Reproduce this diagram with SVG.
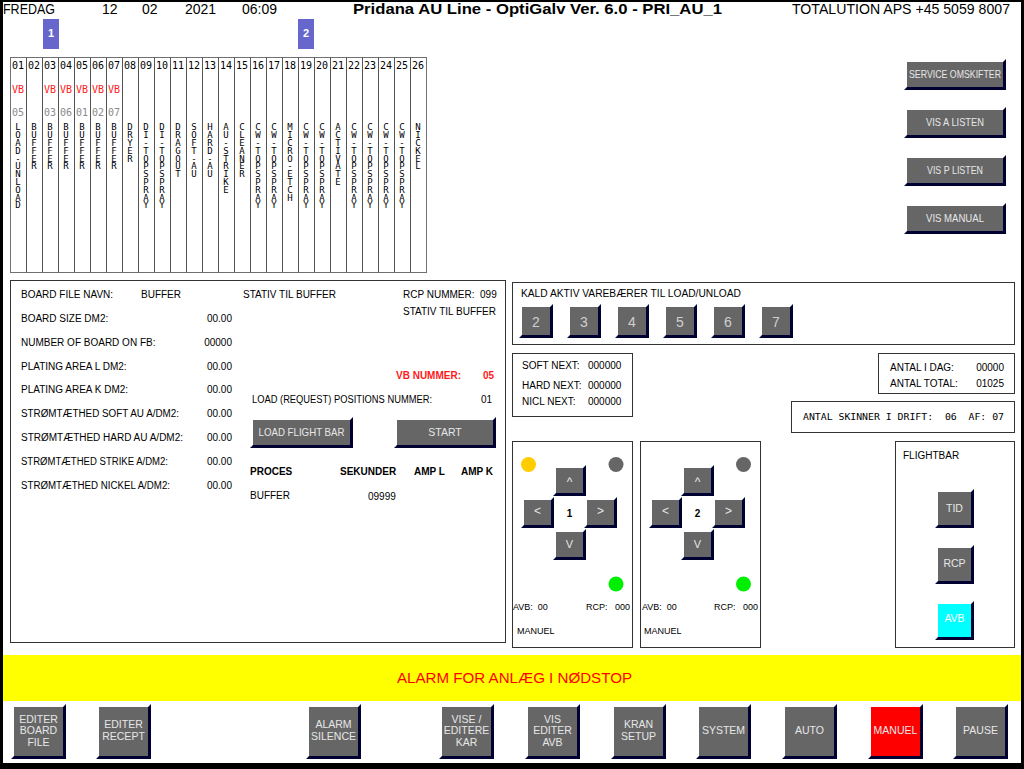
<svg xmlns="http://www.w3.org/2000/svg" width="1024" height="769" viewBox="0 0 1024 769">
<style>
.t{font-family:"Liberation Sans",Arial,sans-serif;font-size:10px;fill:#000}
.tb{font-family:"Liberation Sans",Arial,sans-serif;font-size:10px;font-weight:bold;fill:#000}
.hd{font-family:"Liberation Sans",Arial,sans-serif;font-size:14px;fill:#000}
.m{font-family:"DejaVu Sans Mono",monospace;font-size:10px;text-anchor:middle;fill:#000}
.v{font-family:"DejaVu Sans Mono",monospace;font-size:9px;text-anchor:middle;fill:#000}
.vb{fill:#ff1a1a}
.gn{fill:#8a8a8a}
.pnl{fill:#fff;stroke:#333;stroke-width:1}
.bf{fill:#666}
.bs{fill:#000033}
.bt{font-family:"Liberation Sans",Arial,sans-serif;font-size:10.5px;fill:#e6e6e6;text-anchor:middle}
.ar{font-family:"Liberation Sans",Arial,sans-serif;font-size:12px;fill:#e6e6e6;text-anchor:middle}
.num{font-family:"Liberation Sans",Arial,sans-serif;font-size:14px;fill:#d0d0d0;text-anchor:middle}
.r{text-anchor:end}
.s9{font-size:9px}
</style>
<rect x="0" y="0" width="1024" height="769" fill="#000"/>
<rect x="3" y="2" width="1018" height="761" fill="#fff"/>

<g id="header">
<text class="hd" x="3" y="13.5" textLength="52" lengthAdjust="spacingAndGlyphs">FREDAG</text>
<text class="hd" x="102" y="13.5">12</text>
<text class="hd" x="142" y="13.5">02</text>
<text class="hd" x="185" y="13.5">2021</text>
<text class="hd" x="242" y="13.5">06:09</text>
<text class="hd" x="353" y="14" font-weight="bold" textLength="369" lengthAdjust="spacingAndGlyphs">Pridana AU Line - OptiGalv Ver. 6.0 - PRI_AU_1</text>
<text class="hd" x="792" y="13.5" textLength="218" lengthAdjust="spacingAndGlyphs">TOTALUTION APS +45 5059 8007</text>
</g>

<g id="tag-1">
<rect x="43" y="19" width="16" height="30" fill="#6666cc"/>
<text x="51" y="37" font-family="Liberation Sans,Arial,sans-serif" font-size="11" font-weight="bold" fill="#fff" text-anchor="middle">1</text>
</g>
<g id="tag-2">
<rect x="298" y="19" width="16" height="30" fill="#6666cc"/>
<text x="306" y="37" font-family="Liberation Sans,Arial,sans-serif" font-size="11" font-weight="bold" fill="#fff" text-anchor="middle">2</text>
</g>

<g id="tank-table">
<rect x="10.5" y="57.5" width="416" height="215" fill="none" stroke="#707070"/>
<g stroke="#555" stroke-width="1">
<path d="M26.5 57.5V272.5M42.5 57.5V272.5M58.5 57.5V272.5M74.5 57.5V272.5M90.5 57.5V272.5M106.5 57.5V272.5M122.5 57.5V272.5M138.5 57.5V272.5M154.5 57.5V272.5M170.5 57.5V272.5M186.5 57.5V272.5M202.5 57.5V272.5M218.5 57.5V272.5M234.5 57.5V272.5M250.5 57.5V272.5M266.5 57.5V272.5M282.5 57.5V272.5M298.5 57.5V272.5M314.5 57.5V272.5M330.5 57.5V272.5M346.5 57.5V272.5M362.5 57.5V272.5M378.5 57.5V272.5M394.5 57.5V272.5M410.5 57.5V272.5"/>
</g>
<g class="m">
<text x="18" y="68.5" class="m">01</text><text x="34" y="68.5" class="m">02</text><text x="50" y="68.5" class="m">03</text><text x="66" y="68.5" class="m">04</text><text x="82" y="68.5" class="m">05</text><text x="98" y="68.5" class="m">06</text><text x="114" y="68.5" class="m">07</text><text x="130" y="68.5" class="m">08</text><text x="146" y="68.5" class="m">09</text><text x="162" y="68.5" class="m">10</text><text x="178" y="68.5" class="m">11</text><text x="194" y="68.5" class="m">12</text><text x="210" y="68.5" class="m">13</text><text x="226" y="68.5" class="m">14</text><text x="242" y="68.5" class="m">15</text><text x="258" y="68.5" class="m">16</text><text x="274" y="68.5" class="m">17</text><text x="290" y="68.5" class="m">18</text><text x="306" y="68.5" class="m">19</text><text x="322" y="68.5" class="m">20</text><text x="338" y="68.5" class="m">21</text><text x="354" y="68.5" class="m">22</text><text x="370" y="68.5" class="m">23</text><text x="386" y="68.5" class="m">24</text><text x="402" y="68.5" class="m">25</text><text x="418" y="68.5" class="m">26</text>
</g>
<text x="18" y="93" class="m vb">VB</text><text x="50" y="93" class="m vb">VB</text><text x="66" y="93" class="m vb">VB</text><text x="82" y="93" class="m vb">VB</text><text x="98" y="93" class="m vb">VB</text><text x="114" y="93" class="m vb">VB</text>
<text x="18" y="116" class="m gn">05</text><text x="50" y="116" class="m gn">03</text><text x="66" y="116" class="m gn">06</text><text x="82" y="116" class="m gn">01</text><text x="98" y="116" class="m gn">02</text><text x="114" y="116" class="m gn">07</text>

<text class="v" x="18 18 18 18 18 18 18 18 18 18 18" y="130.3 138.1 145.9 153.7 161.5 169.3 177.1 184.9 192.7 200.5 208.3">LOAD-UNLOAD</text>
<text class="v" x="34 34 34 34 34 34" y="130.3 138.1 145.9 153.7 161.5 169.3">BUFFER</text>
<text class="v" x="50 50 50 50 50 50" y="130.3 138.1 145.9 153.7 161.5 169.3">BUFFER</text>
<text class="v" x="66 66 66 66 66 66" y="130.3 138.1 145.9 153.7 161.5 169.3">BUFFER</text>
<text class="v" x="82 82 82 82 82 82" y="130.3 138.1 145.9 153.7 161.5 169.3">BUFFER</text>
<text class="v" x="98 98 98 98 98 98" y="130.3 138.1 145.9 153.7 161.5 169.3">BUFFER</text>
<text class="v" x="114 114 114 114 114 114" y="130.3 138.1 145.9 153.7 161.5 169.3">BUFFER</text>
<text class="v" x="130 130 130 130 130" y="130.3 138.1 145.9 153.7 161.5">DRYER</text>
<text class="v" x="146 146 146 146 146 146 146 146 146 146 146" y="130.3 138.1 145.9 153.7 161.5 169.3 177.1 184.9 192.7 200.5 208.3">DI-TOPSPRAY</text>
<text class="v" x="162 162 162 162 162 162 162 162 162 162 162" y="130.3 138.1 145.9 153.7 161.5 169.3 177.1 184.9 192.7 200.5 208.3">DI-TOPSPRAY</text>
<text class="v" x="178 178 178 178 178 178 178" y="130.3 138.1 145.9 153.7 161.5 169.3 177.1">DRAGOUT</text>
<text class="v" x="194 194 194 194 194 194 194" y="130.3 138.1 145.9 153.7 161.5 169.3 177.1">SOFT-AU</text>
<text class="v" x="210 210 210 210 210 210 210" y="130.3 138.1 145.9 153.7 161.5 169.3 177.1">HARD-AU</text>
<text class="v" x="226 226 226 226 226 226 226 226 226" y="130.3 138.1 145.9 153.7 161.5 169.3 177.1 184.9 192.7">AU-STRIKE</text>
<text class="v" x="242 242 242 242 242 242 242" y="130.3 138.1 145.9 153.7 161.5 169.3 177.1">CLEANER</text>
<text class="v" x="258 258 258 258 258 258 258 258 258 258 258" y="130.3 138.1 145.9 153.7 161.5 169.3 177.1 184.9 192.7 200.5 208.3">CW-TOPSPRAY</text>
<text class="v" x="274 274 274 274 274 274 274 274 274 274 274" y="130.3 138.1 145.9 153.7 161.5 169.3 177.1 184.9 192.7 200.5 208.3">CW-TOPSPRAY</text>
<text class="v" x="290 290 290 290 290 290 290 290 290 290" y="130.3 138.1 145.9 153.7 161.5 169.3 177.1 184.9 192.7 200.5">MICRO-ETCH</text>
<text class="v" x="306 306 306 306 306 306 306 306 306 306 306" y="130.3 138.1 145.9 153.7 161.5 169.3 177.1 184.9 192.7 200.5 208.3">CW-TOPSPRAY</text>
<text class="v" x="322 322 322 322 322 322 322 322 322 322 322" y="130.3 138.1 145.9 153.7 161.5 169.3 177.1 184.9 192.7 200.5 208.3">CW-TOPSPRAY</text>
<text class="v" x="338 338 338 338 338 338 338 338" y="130.3 138.1 145.9 153.7 161.5 169.3 177.1 184.9">ACTIVATE</text>
<text class="v" x="354 354 354 354 354 354 354 354 354 354 354" y="130.3 138.1 145.9 153.7 161.5 169.3 177.1 184.9 192.7 200.5 208.3">CW-TOPSPRAY</text>
<text class="v" x="370 370 370 370 370 370 370 370 370 370 370" y="130.3 138.1 145.9 153.7 161.5 169.3 177.1 184.9 192.7 200.5 208.3">CW-TOPSPRAY</text>
<text class="v" x="386 386 386 386 386 386 386 386 386 386 386" y="130.3 138.1 145.9 153.7 161.5 169.3 177.1 184.9 192.7 200.5 208.3">CW-TOPSPRAY</text>
<text class="v" x="402 402 402 402 402 402 402 402 402 402 402" y="130.3 138.1 145.9 153.7 161.5 169.3 177.1 184.9 192.7 200.5 208.3">CW-TOPSPRAY</text>
<text class="v" x="418 418 418 418 418 418" y="130.3 138.1 145.9 153.7 161.5 169.3">NICKEL</text>
</g>

<g id="btn-service"><polygon class="bs" points="904,90 1006,90 1006,59 1003,62 1003,87 907,87"/><rect class="bf" x="907" y="62" width="96" height="25"/><text class="bt" x="955" y="78" textLength="92" lengthAdjust="spacingAndGlyphs">SERVICE OMSKIFTER</text></g>
<g id="btn-vis-a"><polygon class="bs" points="904,138 1006,138 1006,107 1003,110 1003,135 907,135"/><rect class="bf" x="907" y="110" width="96" height="25"/><text class="bt" x="955" y="126" textLength="58" lengthAdjust="spacingAndGlyphs">VIS A LISTEN</text></g>
<g id="btn-vis-p"><polygon class="bs" points="904,186 1006,186 1006,155 1003,158 1003,183 907,183"/><rect class="bf" x="907" y="158" width="96" height="25"/><text class="bt" x="955" y="174" textLength="56" lengthAdjust="spacingAndGlyphs">VIS P LISTEN</text></g>
<g id="btn-vis-manual"><polygon class="bs" points="904,234 1006,234 1006,203 1003,206 1003,231 907,231"/><rect class="bf" x="907" y="206" width="96" height="25"/><text class="bt" x="955" y="222" textLength="58" lengthAdjust="spacingAndGlyphs">VIS MANUAL</text></g>

<g id="info-panel">
<rect class="pnl" x="10.5" y="280.5" width="495" height="362"/>
<text class="t" x="21" y="298">BOARD FILE NAVN:</text><text class="t" x="141" y="298">BUFFER</text>
<text class="t" x="21" y="322">BOARD SIZE DM2:</text><text class="t r" x="232" y="322">00.00</text>
<text class="t" x="21" y="345.5">NUMBER OF BOARD ON FB:</text><text class="t r" x="232" y="345.5">00000</text>
<text class="t" x="21" y="369.5">PLATING AREA L DM2:</text><text class="t r" x="232" y="369.5">00.00</text>
<text class="t" x="21" y="393">PLATING AREA K DM2:</text><text class="t r" x="232" y="393">00.00</text>
<text class="t" x="21" y="417" textLength="158" lengthAdjust="spacingAndGlyphs">STRØMTÆTHED SOFT AU A/DM2:</text><text class="t r" x="232" y="417">00.00</text>
<text class="t" x="21" y="441" textLength="162" lengthAdjust="spacingAndGlyphs">STRØMTÆTHED HARD AU A/DM2:</text><text class="t r" x="232" y="441">00.00</text>
<text class="t" x="21" y="465" textLength="147" lengthAdjust="spacingAndGlyphs">STRØMTÆTHED STRIKE A/DM2:</text><text class="t r" x="232" y="465">00.00</text>
<text class="t" x="21" y="488.5" textLength="149" lengthAdjust="spacingAndGlyphs">STRØMTÆTHED NICKEL A/DM2:</text><text class="t r" x="232" y="488.5">00.00</text>
<text class="t" x="243" y="297.5">STATIV TIL BUFFER</text>
<text class="t" x="403" y="297.5" xml:space="preserve">RCP NUMMER:  099</text>
<text class="t r" x="496" y="315">STATIV TIL BUFFER</text>
<text class="tb" x="396" y="378.5" fill="#ff1a1a" style="fill:#ff1a1a">VB NUMMER:</text>
<text class="tb r" x="494" y="378.5" style="fill:#ff1a1a">05</text>
<text class="t" x="252" y="402.5" textLength="180" lengthAdjust="spacingAndGlyphs">LOAD (REQUEST) POSITIONS NUMMER:</text>
<text class="t r" x="492" y="402.5">01</text>
<text class="tb" x="250" y="475">PROCES</text>
<text class="tb" x="340" y="475">SEKUNDER</text>
<text class="tb" x="414" y="475">AMP L</text>
<text class="tb" x="461" y="475">AMP K</text>
<text class="t" x="250" y="499">BUFFER</text>
<text class="t" x="368" y="500">09999</text>
</g>
<g id="btn-load-flight-bar"><polygon class="bs" points="250,448 353,448 353,417 350,420 350,445 253,445"/><rect class="bf" x="253" y="420" width="97" height="25"/><text class="bt" x="301.5" y="435.5" textLength="86" lengthAdjust="spacingAndGlyphs">LOAD FLIGHT BAR</text></g>
<g id="btn-start"><polygon class="bs" points="394,448 496,448 496,417 493,420 493,445 397,445"/><rect class="bf" x="397" y="420" width="96" height="25"/><text class="bt" x="445" y="435.5">START</text></g>

<g id="kald-panel">
<rect class="pnl" x="512.5" y="282.5" width="502" height="62"/>
<text class="t" x="521" y="297" textLength="220" lengthAdjust="spacingAndGlyphs">KALD AKTIV VAREBÆRER TIL LOAD/UNLOAD</text>
</g>
<g id="btn-kald-2"><polygon class="bs" points="519,338 553,338 553,304 550,307 550,335 522,335"/><rect class="bf" x="522" y="307" width="28" height="28"/><text class="num" x="536" y="327">2</text></g>
<g id="btn-kald-3"><polygon class="bs" points="567,338 601,338 601,304 598,307 598,335 570,335"/><rect class="bf" x="570" y="307" width="28" height="28"/><text class="num" x="584" y="327">3</text></g>
<g id="btn-kald-4"><polygon class="bs" points="615,338 649,338 649,304 646,307 646,335 618,335"/><rect class="bf" x="618" y="307" width="28" height="28"/><text class="num" x="632" y="327">4</text></g>
<g id="btn-kald-5"><polygon class="bs" points="663,338 697,338 697,304 694,307 694,335 666,335"/><rect class="bf" x="666" y="307" width="28" height="28"/><text class="num" x="680" y="327">5</text></g>
<g id="btn-kald-6"><polygon class="bs" points="711,338 745,338 745,304 742,307 742,335 714,335"/><rect class="bf" x="714" y="307" width="28" height="28"/><text class="num" x="728" y="327">6</text></g>
<g id="btn-kald-7"><polygon class="bs" points="759,338 793,338 793,304 790,307 790,335 762,335"/><rect class="bf" x="762" y="307" width="28" height="28"/><text class="num" x="776" y="327">7</text></g>

<g id="next-panel">
<rect class="pnl" x="512.5" y="353.5" width="120" height="63"/>
<text class="t" x="522" y="369">SOFT NEXT:</text><text class="t" x="588" y="369">000000</text>
<text class="t" x="522" y="388.5">HARD NEXT:</text><text class="t" x="588" y="388.5">000000</text>
<text class="t" x="522" y="405">NICL NEXT:</text><text class="t" x="588" y="405">000000</text>
</g>
<g id="antal-panel">
<rect class="pnl" x="878.5" y="353.5" width="136" height="40"/>
<text class="t" x="890" y="371">ANTAL I DAG:</text><text class="t r" x="1004" y="371">00000</text>
<text class="t" x="890" y="387">ANTAL TOTAL:</text><text class="t r" x="1004" y="387">01025</text>
</g>
<g id="skinner-panel">
<rect class="pnl" x="791.5" y="401.5" width="223" height="31"/>
<text x="803" y="419.5" font-family="DejaVu Sans Mono,monospace" font-size="9.5" xml:space="preserve" textLength="201" lengthAdjust="spacingAndGlyphs">ANTAL SKINNER I DRIFT:  06  AF: 07</text>
</g>

<g id="crane-1">
<rect class="pnl" x="512.5" y="441.5" width="120" height="206"/>
<circle cx="528.5" cy="464.5" r="7.5" fill="#ffcc00"/>
<circle cx="616" cy="464.5" r="7.5" fill="#666"/>
<circle cx="616" cy="584" r="7.5" fill="#00ee00"/>
<polygon class="bs" points="553,496 586,496 586,465 583,468 583,493 556,493"/><rect class="bf" x="556" y="468" width="27" height="25"/><text class="ar" x="569.5" y="486">^</text>
<polygon class="bs" points="521,528 554,528 554,497 551,500 551,525 524,525"/><rect class="bf" x="524" y="500" width="27" height="25"/><text class="ar" x="537.5" y="515">&lt;</text>
<polygon class="bs" points="584,528 617,528 617,497 614,500 614,525 587,525"/><rect class="bf" x="587" y="500" width="27" height="25"/><text class="ar" x="600.5" y="515">&gt;</text>
<polygon class="bs" points="553,560 586,560 586,529 583,532 583,557 556,557"/><rect class="bf" x="556" y="532" width="27" height="25"/><text class="ar" x="569.5" y="548" style="font-size:11px">V</text>
<text class="tb" x="569.5" y="516.5" text-anchor="middle">1</text>
<text class="t s9" x="513" y="610" xml:space="preserve">AVB:  00</text>
<text class="t s9 r" x="630" y="610" xml:space="preserve">RCP:   000</text>
<text class="t s9" x="517" y="634">MANUEL</text>
</g>
<g id="crane-2">
<rect class="pnl" x="640.5" y="441.5" width="120" height="206"/>
<circle cx="743.5" cy="464.5" r="7.5" fill="#666"/>
<circle cx="743.5" cy="584" r="7.5" fill="#00ee00"/>
<polygon class="bs" points="681,496 714,496 714,465 711,468 711,493 684,493"/><rect class="bf" x="684" y="468" width="27" height="25"/><text class="ar" x="697.5" y="486">^</text>
<polygon class="bs" points="649,528 682,528 682,497 679,500 679,525 652,525"/><rect class="bf" x="652" y="500" width="27" height="25"/><text class="ar" x="665.5" y="515">&lt;</text>
<polygon class="bs" points="712,528 745,528 745,497 742,500 742,525 715,525"/><rect class="bf" x="715" y="500" width="27" height="25"/><text class="ar" x="728.5" y="515">&gt;</text>
<polygon class="bs" points="681,560 714,560 714,529 711,532 711,557 684,557"/><rect class="bf" x="684" y="532" width="27" height="25"/><text class="ar" x="697.5" y="548" style="font-size:11px">V</text>
<text class="tb" x="697.5" y="516.5" text-anchor="middle">2</text>
<text class="t s9" x="642" y="610" xml:space="preserve">AVB:  00</text>
<text class="t s9 r" x="758" y="610" xml:space="preserve">RCP:   000</text>
<text class="t s9" x="644" y="634">MANUEL</text>
</g>

<g id="flightbar-panel">
<rect class="pnl" x="895.5" y="441.5" width="119" height="206"/>
<text class="t" x="903" y="458.5">FLIGHTBAR</text>
</g>
<g id="btn-tid"><polygon class="bs" points="935,528 974,528 974,489 971,492 971,525 938,525"/><rect class="bf" x="938" y="492" width="33" height="33"/><text class="bt" x="954.5" y="511.5">TID</text></g>
<g id="btn-rcp"><polygon class="bs" points="935,584 974,584 974,545 971,548 971,581 938,581"/><rect class="bf" x="938" y="548" width="33" height="33"/><text class="bt" x="954.5" y="567">RCP</text></g>
<g id="btn-avb"><polygon class="bs" points="935,640 974,640 974,601 971,604 971,637 938,637"/><rect x="938" y="604" width="33" height="33" fill="#00ffff"/><text class="bt" x="954.5" y="622" style="fill:#fff">AVB</text></g>

<g id="alarm-bar">
<rect x="3" y="655" width="1018" height="46" fill="#ffff00"/>
<text x="397" y="683" font-family="Liberation Sans,Arial,sans-serif" font-size="14" fill="#ff0000" textLength="235" lengthAdjust="spacingAndGlyphs">ALARM FOR ANLÆG I NØDSTOP</text>
</g>

<g id="btn-editer-board-file"><polygon class="bs" points="11,759 66,759 66,704 63,707 63,756 14,756"/><rect class="bf" x="14" y="707" width="49" height="49"/><text class="bt" x="38.5" y="722.5">EDITER</text><text class="bt" x="38.5" y="734">BOARD</text><text class="bt" x="38.5" y="745.5">FILE</text></g>
<g id="btn-editer-recept"><polygon class="bs" points="96,759 151,759 151,704 148,707 148,756 99,756"/><rect class="bf" x="99" y="707" width="49" height="49"/><text class="bt" x="123.5" y="727.5">EDITER</text><text class="bt" x="123.5" y="739.5">RECEPT</text></g>
<g id="btn-alarm-silence"><polygon class="bs" points="306,759 361,759 361,704 358,707 358,756 309,756"/><rect class="bf" x="309" y="707" width="49" height="49"/><text class="bt" x="333.5" y="728">ALARM</text><text class="bt" x="333.5" y="740">SILENCE</text></g>
<g id="btn-vise-editere-kar"><polygon class="bs" points="439,759 494,759 494,704 491,707 491,756 442,756"/><rect class="bf" x="442" y="707" width="49" height="49"/><text class="bt" x="466.5" y="722.5">VISE /</text><text class="bt" x="466.5" y="734">EDITERE</text><text class="bt" x="466.5" y="745.5">KAR</text></g>
<g id="btn-vis-editer-avb"><polygon class="bs" points="525,759 580,759 580,704 577,707 577,756 528,756"/><rect class="bf" x="528" y="707" width="49" height="49"/><text class="bt" x="552.5" y="722.5">VIS</text><text class="bt" x="552.5" y="734">EDITER</text><text class="bt" x="552.5" y="745.5">AVB</text></g>
<g id="btn-kran-setup"><polygon class="bs" points="611,759 666,759 666,704 663,707 663,756 614,756"/><rect class="bf" x="614" y="707" width="49" height="49"/><text class="bt" x="638.5" y="728">KRAN</text><text class="bt" x="638.5" y="740">SETUP</text></g>
<g id="btn-system"><polygon class="bs" points="696,759 751,759 751,704 748,707 748,756 699,756"/><rect class="bf" x="699" y="707" width="49" height="49"/><text class="bt" x="723.5" y="734">SYSTEM</text></g>
<g id="btn-auto"><polygon class="bs" points="782,759 837,759 837,704 834,707 834,756 785,756"/><rect class="bf" x="785" y="707" width="49" height="49"/><text class="bt" x="809.5" y="734">AUTO</text></g>
<g id="btn-manuel"><polygon class="bs" points="868,759 923,759 923,704 920,707 920,756 871,756"/><rect x="871" y="707" width="49" height="49" fill="#ff0000"/><text class="bt" x="895.5" y="734">MANUEL</text></g>
<g id="btn-pause"><polygon class="bs" points="953,759 1008,759 1008,704 1005,707 1005,756 956,756"/><rect class="bf" x="956" y="707" width="49" height="49"/><text class="bt" x="980.5" y="734">PAUSE</text></g>

<g id="connectors"/>
</svg>
